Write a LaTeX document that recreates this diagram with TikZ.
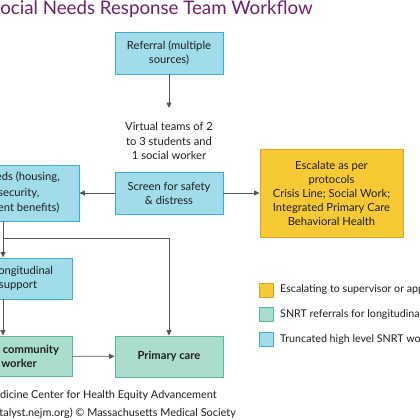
\documentclass[tikz,border=0pt]{standalone}
\usepackage{fontspec}
\setmainfont{Lato}
\usetikzlibrary{arrows.meta,calc}
\definecolor{bluefill}{HTML}{A0DCEA}
\definecolor{blueline}{HTML}{45AACB}
\definecolor{greenfill}{HTML}{AADDCB}
\definecolor{greenline}{HTML}{5DB79C}
\definecolor{yellowfill}{HTML}{F7C934}
\definecolor{yellowline}{HTML}{D8A623}
\definecolor{titlepurple}{HTML}{6E2168}
\definecolor{conn}{HTML}{555555}
\definecolor{txt}{HTML}{1E1E1E}
\tikzset{
  box/.style={draw, line width=0.9pt, inner sep=0pt, align=center, text=txt,
    font=\fontsize{11.2}{14}\selectfont},
  bluebox/.style={box, fill=bluefill, draw=blueline},
  greenbox/.style={box, fill=greenfill, draw=greenline, font=\fontsize{11.2}{14}\selectfont\bfseries},
  yellowbox/.style={box, fill=yellowfill, draw=yellowline},
  conn/.style={draw=conn, line width=0.8pt},
  arr/.style={conn, -{Triangle[length=5.5pt,width=5pt]}},
  legsq/.style={draw, line width=0.7pt, minimum width=14pt, minimum height=14pt, inner sep=0pt},
  legtxt/.style={anchor=west, inner sep=0pt, text=txt, font=\fontsize{10.7}{12}\selectfont},
  foot/.style={anchor=east, inner sep=0pt, text=txt, font=\fontsize{10.9}{13}\selectfont},
}
\begin{document}
\begin{tikzpicture}[x=1pt,y=-1pt]
\useasboundingbox (0,0) rectangle (420,420);
\clip (0,0) rectangle (420,420);
\fill[white] (0,0) rectangle (420,420);
% title
\node[anchor=base west, inner sep=0pt, text=titlepurple, font=\fontsize{18.7}{20}\selectfont] (title) at (-10,15) {Social Needs Response Team Workflow};
% boxes
\node[bluebox, minimum width=108pt, minimum height=42pt] (ref) at (169,53) {Referral (multiple\\sources)};
\node[inner sep=0pt, align=center, text=txt, font=\fontsize{11.2}{14.5}\selectfont] (virt) at (169,141) {Virtual teams of 2\\to 3 students and\\1 social worker};
\coordinate (virttop) at (169,108);
\node[bluebox, minimum width=108pt, minimum height=42pt] (screen) at (169,193) {Screen for safety\\\& distress};
\node[yellowbox, minimum width=143pt, minimum height=88pt] (esc) at (331.5,193) {Escalate as per\\protocols\\Crisis Line; Social Work;\\Integrated Primary Care\\Behavioral Health};
\node[bluebox, minimum width=146pt, minimum height=56pt, font=\fontsize{11.2}{15.5}\selectfont] (needs) at (6,193) {Social needs (housing,\\food security,\\employment benefits)};
\node[bluebox, minimum width=98pt, minimum height=41pt] (long) at (23,278.5) {Longitudinal\\\hspace*{-10pt}support};
\node[greenbox, minimum width=140pt, minimum height=40pt] (comm) at (2,356) {Connect to community\\health worker};
\node[greenbox, minimum width=108pt, minimum height=41pt] (prim) at (169,356.5) {Primary care};
\coordinate (trunk) at (3,238.5);
% connectors
\draw[arr] (ref) -- (virttop);
\draw[arr] (screen) -- (needs);
\draw[arr] (screen) -- (esc);
\draw[conn] (needs.south -| trunk) -- (trunk);
\draw[arr] (trunk) -| (prim.north);
\draw[arr] (trunk) -- (trunk |- long.north);
\draw[arr] (long.south -| trunk) -- (trunk |- comm.north);
\draw[arr] (comm) -- (prim);
% legend
\node[legsq, fill=yellowfill, draw=yellowline] (l1) at (266,290) {};
\node[legsq, fill=greenfill, draw=greenline] (l2) at (266,314.5) {};
\node[legsq, fill=bluefill, draw=blueline] (l3) at (266,339.5) {};
\node[legtxt] (t1) at (280,290) {Escalating to supervisor or appropriate team};
\node[legtxt] (t2) at (280,314.5) {SNRT referrals for longitudinal support};
\node[legtxt] (t3) at (280,339.5) {Truncated high level SNRT workflow};
% footer
\node[foot] (f1) at (217,395) {Source: Medicine Center for Health Equity Advancement};
\node[foot] (f2) at (236,413) {NEJM Catalyst (catalyst.nejm.org) \textcopyright{} Massachusetts Medical Society};
\end{tikzpicture}
\end{document}
